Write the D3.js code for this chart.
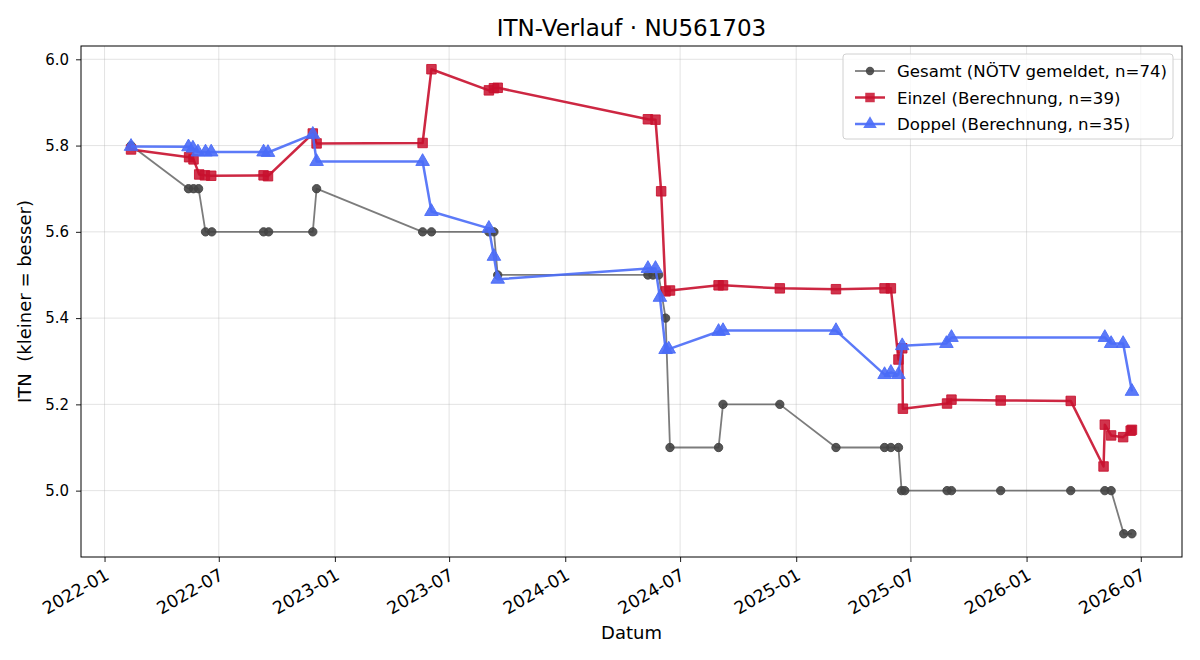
<!DOCTYPE html>
<html>
<head>
<meta charset="utf-8">
<script src="https://d3js.org/d3.v7.min.js"></script>
<style>
  body { margin: 0; background: white; }
  text { font-family: "DejaVu Sans", sans-serif; }
</style>
</head>
<body>
<svg id="chart" width="1200" height="660"></svg>
<script>
// Gesamt (NÖTV gemeldet)
var gesamtDates = ["2022-02-12","2022-05-14","2022-05-22","2022-05-30","2022-06-10","2022-06-20",
  "2022-09-10","2022-09-18","2022-11-27","2022-12-03","2023-05-20","2023-06-03","2023-09-02",
  "2023-09-10","2023-09-16","2024-05-11","2024-05-19","2024-05-28","2024-06-08","2024-06-15",
  "2024-08-31","2024-09-07","2024-12-06","2025-03-05","2025-05-21","2025-05-31","2025-06-12",
  "2025-06-17","2025-06-22","2025-08-28","2025-09-04","2025-11-21","2026-03-12","2026-05-05",
  "2026-05-15","2026-06-04","2026-06-17"];
var gesamtValues = [5.8,5.7,5.7,5.7,5.6,5.6,
  5.6,5.6,5.6,5.7,5.6,5.6,5.6,
  5.6,5.5,5.5,5.5,5.5,5.4,5.1,
  5.1,5.2,5.2,5.1,5.1,5.1,5.1,
  5.0,5.0,5.0,5.0,5.0,5.0,5.0,
  5.0,4.9,4.9];

// Einzel (Berechnung)
var einzelDates = ["2022-02-12","2022-05-15","2022-05-22","2022-05-31","2022-06-09","2022-06-19",
  "2022-09-10","2022-09-17","2022-11-27","2022-12-03","2023-05-20","2023-06-03","2023-09-02",
  "2023-09-10","2023-09-16","2024-05-11","2024-05-23","2024-06-01","2024-06-08","2024-06-15",
  "2024-08-31","2024-09-07","2024-12-06","2025-03-05","2025-05-21","2025-05-31","2025-06-12",
  "2025-06-18","2025-06-19","2025-08-28","2025-09-04","2025-11-21","2026-03-12","2026-05-03",
  "2026-05-05","2026-05-15","2026-06-03","2026-06-15","2026-06-17"];
var einzelValues = [5.791,5.773,5.768,5.733,5.731,5.730,
  5.731,5.729,5.828,5.805,5.806,5.977,5.928,
  5.933,5.934,5.861,5.860,5.694,5.462,5.464,
  5.476,5.476,5.469,5.467,5.469,5.469,5.304,
  5.330,5.190,5.202,5.211,5.209,5.208,5.056,
  5.153,5.128,5.124,5.139,5.141];

// Doppel (Berechnung)
var doppelDates = ["2022-02-12","2022-05-14","2022-05-21","2022-05-29","2022-06-10","2022-06-19",
  "2022-09-10","2022-09-17","2022-11-27","2022-12-03","2023-05-20","2023-06-03","2023-09-02",
  "2023-09-10","2023-09-16","2024-05-11","2024-05-23","2024-05-30","2024-06-08","2024-06-13",
  "2024-08-31","2024-09-07","2025-03-05","2025-05-21","2025-05-31","2025-06-12","2025-06-18",
  "2025-08-27","2025-09-04","2026-05-05","2026-05-15","2026-06-03","2026-06-17"];
var doppelValues = [5.798,5.797,5.794,5.785,5.785,5.785,
  5.785,5.784,5.826,5.763,5.763,5.647,5.608,
  5.543,5.490,5.515,5.515,5.448,5.327,5.328,
  5.369,5.371,5.371,5.269,5.274,5.269,5.336,
  5.341,5.355,5.355,5.341,5.341,5.230];

var legendLabels = ["Gesamt (NÖTV gemeldet, n=74)", "Einzel (Berechnung, n=39)", "Doppel (Berechnung, n=35)"];
var yTicks = [5.0, 5.2, 5.4, 5.6, 5.8, 6.0];

var parse = d3.timeParse("%Y-%m-%d");
function zip(ds, vs) { return ds.map(function(d, i) { return { date: parse(d), value: vs[i] }; }); }

var series = [
  { name: legendLabels[0], data: zip(gesamtDates, gesamtValues), line: "#444444", lineOpacity: 0.7, width: 1.8, marker: "circle", fill: "#444444", fillOpacity: 0.9 },
  { name: legendLabels[1], data: zip(einzelDates, einzelValues), line: "#c8102e", lineOpacity: 0.9, width: 2.5, marker: "square", fill: "#c8102e", fillOpacity: 0.85 },
  { name: legendLabels[2], data: zip(doppelDates, doppelValues), line: "#4a6cf7", lineOpacity: 0.9, width: 2.5, marker: "triangle", fill: "#4a6cf7", fillOpacity: 0.9 }
];

var margin = { top: 46, right: 18, bottom: 103, left: 81 },
    width = 1200 - margin.left - margin.right,
    height = 660 - margin.top - margin.bottom;

var svg = d3.select("#chart");
var g = svg.append("g").attr("transform", "translate(" + margin.left + "," + margin.top + ")");

// 5% margins like matplotlib autoscale
var all = series[0].data.concat(series[1].data, series[2].data);
var xExt = d3.extent(all, function(d) { return d.date; });
var xPad = (xExt[1] - xExt[0]) * 0.05;
var yExt = d3.extent(all, function(d) { return d.value; });
var yPad = (yExt[1] - yExt[0]) * 0.05;

var x = d3.scaleTime()
    .domain([new Date(+xExt[0] - xPad), new Date(+xExt[1] + xPad)])
    .range([0, width]);
var y = d3.scaleLinear()
    .domain([yExt[0] - yPad, yExt[1] + yPad])
    .range([height, 0]);

var xTicks = d3.timeMonth.every(6).range(d3.timeYear.floor(x.domain()[0]), x.domain()[1])
    .filter(function(d) { return d >= x.domain()[0]; });

// grid
g.append("g").selectAll("line").data(xTicks).enter().append("line")
    .attr("x1", function(d) { return x(d); }).attr("x2", function(d) { return x(d); })
    .attr("y1", 0).attr("y2", height)
    .attr("stroke", "#b0b0b0").attr("stroke-opacity", 0.4).attr("stroke-width", 0.9);
g.append("g").selectAll("line").data(yTicks).enter().append("line")
    .attr("y1", function(d) { return y(d); }).attr("y2", function(d) { return y(d); })
    .attr("x1", 0).attr("x2", width)
    .attr("stroke", "#b0b0b0").attr("stroke-opacity", 0.4).attr("stroke-width", 0.9);

// axes
var xAxis = g.append("g")
    .attr("transform", "translate(0," + height + ")")
    .call(d3.axisBottom(x).tickValues(xTicks).tickFormat(d3.timeFormat("%Y-%m")).tickSize(5).tickPadding(3));

var yAxis = g.append("g")
    .call(d3.axisLeft(y).tickValues(yTicks).tickFormat(d3.format(".1f")).tickSize(5).tickPadding(7));

[xAxis, yAxis].forEach(function(a) {
  a.attr("font-size", 15).attr("font-family", "DejaVu Sans, sans-serif");
  a.select(".domain").remove();
  a.selectAll("line").attr("stroke", "#000").attr("stroke-width", 0.9);
  a.selectAll("text").attr("fill", "#000");
});
xAxis.selectAll("text")
    .attr("font-size", 17.5)
    .attr("text-anchor", "end")
    .attr("dx", "-0.35em").attr("dy", "0.75em")
    .attr("transform", "rotate(-30)");
yAxis.selectAll("text").attr("font-size", 15);

// frame
g.append("rect").attr("width", width).attr("height", height)
    .attr("fill", "none").attr("stroke", "#000").attr("stroke-width", 1);

var symbols = { circle: d3.symbolCircle, square: d3.symbolSquare, triangle: d3.symbolTriangle };
var sizes = { circle: 55, square: 90, triangle: 80 };

var line = d3.line().x(function(d) { return x(d.date); }).y(function(d) { return y(d.value); });

series.forEach(function(s) {
  g.append("path").datum(s.data)
      .attr("fill", "none")
      .attr("stroke", s.line)
      .attr("stroke-opacity", s.lineOpacity)
      .attr("stroke-width", s.width)
      .attr("stroke-linejoin", "round")
      .attr("d", line);
  g.append("g").selectAll("path").data(s.data).enter().append("path")
      .attr("transform", function(d) { return "translate(" + x(d.date) + "," + y(d.value) + ")"; })
      .attr("d", d3.symbol().type(symbols[s.marker]).size(sizes[s.marker]))
      .attr("fill", s.fill).attr("fill-opacity", s.fillOpacity)
      .attr("stroke", s.fill).attr("stroke-opacity", s.fillOpacity).attr("stroke-width", 1);
});

// title and axis labels
svg.append("text").attr("x", margin.left + width / 2).attr("y", 36)
    .attr("text-anchor", "middle").attr("font-size", 23).text("ITN-Verlauf · NU561703");
svg.append("text").attr("x", margin.left + width / 2).attr("y", 639)
    .attr("text-anchor", "middle").attr("font-size", 18).text("Datum");
svg.append("text")
    .attr("transform", "translate(31," + (margin.top + height / 2) + ") rotate(-90)")
    .attr("text-anchor", "middle").attr("font-size", 18)
    .attr("xml:space", "preserve").style("white-space", "pre")
    .text("ITN  (kleiner = besser)");

// legend
var lg = svg.append("g").attr("transform", "translate(843,54)");
lg.append("rect").attr("width", 330).attr("height", 85).attr("rx", 3)
    .attr("fill", "white").attr("fill-opacity", 0.8).attr("stroke", "#d0d0d0");
series.forEach(function(s, i) {
  var yy = 17 + i * 26.5;
  lg.append("line").attr("x1", 12).attr("x2", 42).attr("y1", yy).attr("y2", yy)
      .attr("stroke", s.line).attr("stroke-opacity", s.lineOpacity).attr("stroke-width", s.width);
  lg.append("path").attr("transform", "translate(27," + yy + ")")
      .attr("d", d3.symbol().type(symbols[s.marker]).size(sizes[s.marker]))
      .attr("fill", s.fill).attr("fill-opacity", s.fillOpacity);
  lg.append("text").attr("x", 54).attr("y", yy + 6).attr("font-size", 16.6).text(s.name);
});
</script>
</body>
</html>
